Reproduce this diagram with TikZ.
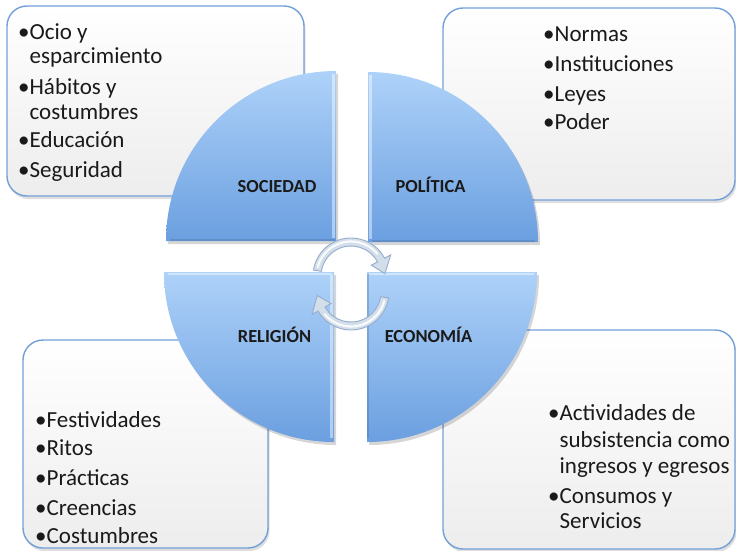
\documentclass[tikz,border=0pt]{standalone}
\usepackage{fontspec}
\setmainfont{Carlito}
\definecolor{boxborder}{HTML}{73A0D8}
\definecolor{boxbot}{HTML}{EDEDED}
\definecolor{qtop}{HTML}{AED2F9}
\definecolor{qbot}{HTML}{6B9FE0}
\definecolor{arrowline}{HTML}{95ADCB}
\definecolor{arrowfill}{HTML}{D3DEEB}
\definecolor{txt}{HTML}{1A1A1A}
\tikzset{
  infobox/.style={draw=boxborder, line width=1.4pt, rounded corners=20pt,
    top color=white, bottom color=boxbot, inner sep=0pt, outer sep=0pt},
  boxshadow/.style={fill=black, opacity=0.13, rounded corners=20pt},
  item/.style={anchor=base west, inner sep=0pt, font=\fontsize{23}{26}\selectfont, text=txt},
  qlabel/.style={anchor=base, inner sep=0pt, font=\fontsize{18.4}{22}\selectfont\bfseries, text=txt},
  quarter/.style={top color=qtop, bottom color=qbot},
  qshadow/.style={fill=black, opacity=0.16},
  lightedge/.style={draw=white, opacity=0.45, line width=2.5pt},
  darkedge/.style={draw=qbot!70!black, opacity=0.35, line width=2pt},
  cyc/.style={draw=arrowline, line width=0.9pt, fill=arrowfill},
  cychl/.style={draw=white, line width=2.2pt, opacity=0.85, line cap=round},
}
\newcommand{\ind}{\phantom{•}}
\begin{document}
\begin{tikzpicture}[x=1pt,y=1pt]
\useasboundingbox (0,0) rectangle (736,550);

% ---- box shadows
\fill[boxshadow] (8.5,351) rectangle (305.5,541);
\fill[boxshadow] (444.5,347) rectangle (736.5,539);
\fill[boxshadow] (24.5,-1) rectangle (269.5,207);
\fill[boxshadow] (444.5,-2) rectangle (736.5,217);

% ---- boxes
\node[infobox, minimum width=297pt, minimum height=190pt] (tl) at (155.5,449) {};
\node[infobox, minimum width=292pt, minimum height=192pt] (tr) at (589,446) {};
\node[infobox, minimum width=245pt, minimum height=208pt] (bl) at (145.5,106) {};
\node[infobox, minimum width=292pt, minimum height=219pt] (br) at (589,110.5) {};

% ---- box texts
\node[item] (tl1) at (18,510) {•Ocio y};
\node[item] (tl1b) at (18,486) {\ind esparcimiento};
\node[item] (tl2) at (18,455) {•Hábitos y};
\node[item] (tl2b) at (18,430) {\ind costumbres};
\node[item] (tl3) at (18,402) {•Educación};
\node[item] (tl4) at (18,373) {•Seguridad};

\node[item] (tr1) at (543,508) {•Normas};
\node[item] (tr2) at (543,478) {•Instituciones};
\node[item] (tr3) at (543,448) {•Leyes};
\node[item] (tr4) at (543,420) {•Poder};

\node[item] (bl1) at (35,123) {•Festividades};
\node[item] (bl2) at (35,95) {•Ritos};
\node[item] (bl3) at (35,65) {•Prácticas};
\node[item] (bl4) at (35,35) {•Creencias};
\node[item] (bl5) at (35,7) {•Costumbres};

\node[item] (br1) at (548,130) {•Actividades de};
\node[item] (br1b) at (548,103) {\ind subsistencia como};
\node[item] (br1c) at (548,77) {\ind ingresos y egresos};
\node[item] (br2) at (548,47) {•Consumos y};
\node[item] (br2b) at (548,22) {\ind Servicios};

% ---- quarter shadows
\fill[qshadow] (338,306) -- (168,306) arc[start angle=180,end angle=90,radius=170] -- cycle;
\fill[qshadow] (370,305) -- (540,305) arc[start angle=0,end angle=90,radius=170] -- cycle;
\fill[qshadow] (336,275) -- (166,275) arc[start angle=180,end angle=270,radius=170] -- cycle;
\fill[qshadow] (369,275) -- (369,105) arc[start angle=270,end angle=360,radius=170] -- cycle;

% ---- quarters
\path[quarter] (336,309) -- (166,309) arc[start angle=180,end angle=90,radius=170] -- cycle;
\path[quarter] (368,308) -- (538,308) arc[start angle=0,end angle=90,radius=170] -- cycle;
\path[quarter] (334,278) -- (164,278) arc[start angle=180,end angle=270,radius=170] -- cycle;
\path[quarter] (367,278) -- (367,108) arc[start angle=270,end angle=360,radius=170] -- cycle;

% bevel edges
\draw[lightedge] (333.5,312) -- (333.5,476);
\draw[darkedge] (170,310.2) -- (335,310.2);
\draw[lightedge] (370.5,311) -- (370.5,475);
\draw[darkedge] (372,309.2) -- (535,309.2);
\draw[lightedge] (331.5,112) -- (331.5,275);
\draw[lightedge] (168,275.8) -- (332,275.8);
\draw[darkedge] (368.2,112) -- (368.2,276);
\draw[lightedge] (369,275.8) -- (534,275.8);

% ---- quarter labels
\node[qlabel] (soc) at (277,358) {SOCIEDAD};
\node[qlabel] (pol) at (430.5,358) {POLÍTICA};
\node[qlabel] (rel) at (274.5,208) {RELIGIÓN};
\node[qlabel] (eco) at (428.5,208) {ECONOMÍA};

% ---- circular arrows
\coordinate (ct) at (351,274);
\coordinate (cb) at (351,258);
\path[cyc] ([shift={(171:38)}]ct) arc[start angle=171,end angle=28,radius=38]
  -- ([shift={(28:45)}]ct) -- ([shift={(4:34)}]ct) -- ([shift={(28:23)}]ct)
  -- ([shift={(28:30)}]ct) arc[start angle=28,end angle=171,radius=30] -- cycle;
\draw[cychl] ([shift={(165:34.5)}]ct) arc[start angle=165,end angle=40,radius=34.5];
\path[cyc] ([shift={(-9:38)}]cb) arc[start angle=-9,end angle=-150,radius=38]
  -- ([shift={(-150:45)}]cb) -- ([shift={(-174:34)}]cb) -- ([shift={(-150:23)}]cb)
  -- ([shift={(-150:30)}]cb) arc[start angle=-150,end angle=-9,radius=30] -- cycle;
\draw[cychl] ([shift={(-15:34.5)}]cb) arc[start angle=-15,end angle=-140,radius=34.5];
\end{tikzpicture}
\end{document}
